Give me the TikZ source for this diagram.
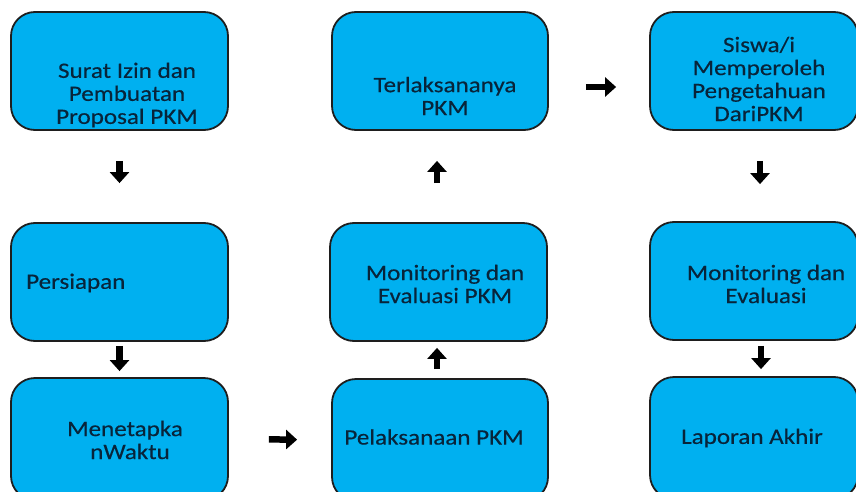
\documentclass[tikz,border=0pt]{standalone}
\usepackage{fontspec}
\setmainfont{Carlito}[FakeStretch=1.14,FakeBold=0.4]
\usetikzlibrary{arrows.meta}
\definecolor{boxfill}{HTML}{00B0F0}
\definecolor{boxline}{HTML}{1E1E1E}
\definecolor{txt}{HTML}{08243A}
\begin{document}
\begin{tikzpicture}[x=1pt,y=-1pt,
  box/.style={draw=boxline,line width=1.8pt,fill=boxfill,rounded corners=24pt,inner sep=0pt},
  lbl/.style={text=txt,align=center,inner sep=0pt,font=\fontsize{22}{23}\selectfont},
  blk/.style={line width=6.5pt,-{Triangle[length=11pt,width=19pt]}}]
\useasboundingbox (0,0) rectangle (856,492);
% boxes
\node[box,minimum width=217pt,minimum height=118pt] (b1) at (119.5,71) {};
\node[box,minimum width=217pt,minimum height=118pt] (b4) at (119.5,282) {};
\node[box,minimum width=217pt,minimum height=122pt] (b5) at (119.5,439) {};
\node[box,minimum width=216pt,minimum height=118pt] (b2) at (440,71) {};
\node[box,minimum width=217pt,minimum height=118pt] (b6) at (438.5,282) {};
\node[box,minimum width=216pt,minimum height=122pt] (b7) at (440,440) {};
\node[box,minimum width=208pt,minimum height=118pt] (b3) at (754,71) {};
\node[box,minimum width=208pt,minimum height=118pt] (b8) at (754,281) {};
\node[box,minimum width=208pt,minimum height=122pt] (b9) at (754,438) {};
% texts
\node[lbl] (t1) at (127,95) {Surat Izin dan\\Pembuatan\\Proposal PKM};
\node[lbl] (t2) at (445,96) {Terlaksananya\\PKM};
\node[lbl] (t3) at (759,79) {Siswa/i\\Memperoleh\\Pengetahuan\\DariPKM};
\node[lbl,anchor=west] (t4) at (26,283) {Persiapan};
\node[lbl] (t5) at (125,440) {Menetapka\\\hspace{10pt}nWaktu};
\node[lbl] (t6) at (445,284) {Monitoring dan\\Evaluasi PKM};
\node[lbl] (t7) at (434,437) {Pelaksanaan PKM};
\node[lbl] (t8) at (766,284) {Monitoring dan\\Evaluasi};
\node[lbl] (t9) at (752,438) {Laporan Akhir};
% arrows
\draw[blk,shorten <=30pt,shorten >=39pt] (b1.south) -- (b4.north);
\draw[blk,shorten <=4pt,shorten >=6pt] (b4.south) -- (b5.north);
\draw[blk,shorten <=40pt,shorten >=34pt] (b5.east) -- (b7.west);
\draw[blk,shorten <=9pt,shorten >=6pt] ([xshift=-3pt]b7.north) -- ([xshift=-1.5pt]b6.south);
\draw[blk,shorten <=39pt,shorten >=30pt] ([xshift=-1.5pt]b6.north) -- ([xshift=-3pt]b2.south);
\draw[blk,shorten <=37pt,shorten >=33pt] ([yshift=-16pt]b2.east) -- ([yshift=-16pt]b3.west);
\draw[blk,shorten <=30pt,shorten >=37pt] ([xshift=6pt]b3.south) -- ([xshift=6pt]b8.north);
\draw[blk,shorten <=5pt,shorten >=7pt] ([xshift=7pt]b8.south) -- ([xshift=7pt]b9.north);
\end{tikzpicture}
\end{document}
